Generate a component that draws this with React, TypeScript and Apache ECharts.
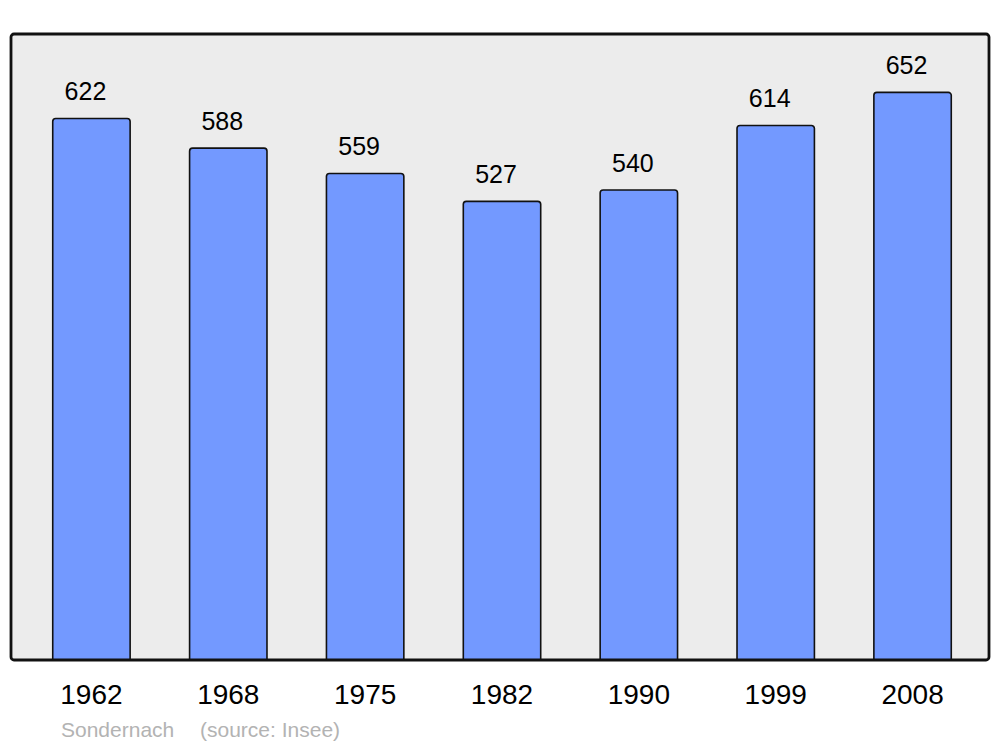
import React, { useEffect, useRef } from "react";
import * as echarts from "echarts";

const years = ["1962", "1968", "1975", "1982", "1990", "1999", "2008"];
const population = [622, 588, 559, 527, 540, 614, 652];
const townName = "Sondernach";
const sourceText = "(source: Insee)";

export default function App() {
  const ref = useRef<HTMLDivElement>(null);
  useEffect(() => {
    if (!ref.current) return;
    const chart = echarts.init(ref.current, undefined, { renderer: "svg" });
    chart.setOption({
      animation: false,
      backgroundColor: "#ffffff",
      textStyle: { fontFamily: "Liberation Sans, Arial, sans-serif" },
      grid: { left: 23, right: 19, top: 34, bottom: 87 },
      xAxis: {
        type: "category",
        data: years,
        axisLine: { show: false },
        axisTick: { show: false },
        axisLabel: {
          color: "#000000",
          fontSize: 28,
          margin: 20,
          fontFamily: "Liberation Sans, Arial, sans-serif",
        },
      },
      yAxis: {
        type: "value",
        min: 0,
        max: 718,
        show: false,
        splitLine: { show: false },
      },
      graphic: [
        {
          type: "rect",
          z: -10,
          silent: true,
          shape: { x: 11, y: 34, width: 978, height: 626, r: 3 },
          style: { fill: "#ececec", stroke: "#111111", lineWidth: 2.8 },
        },
        {
          type: "text",
          left: 61,
          top: 719,
          style: {
            text: townName,
            fill: "#b3b3b3",
            fontSize: 21,
            fontFamily: "Liberation Sans, Arial, sans-serif",
          },
        },
        {
          type: "text",
          left: 200,
          top: 719,
          style: {
            text: sourceText,
            fill: "#b3b3b3",
            fontSize: 21,
            fontFamily: "Liberation Sans, Arial, sans-serif",
          },
        },
      ],
      series: [
        {
          type: "bar",
          data: population,
          barWidth: 79,
          itemStyle: {
            color: "#7399ff",
            borderColor: "#111111",
            borderWidth: 1.6,
            borderRadius: [3, 3, 0, 0],
          },
          label: {
            show: true,
            position: "top",
            distance: 14,
            offset: [-6, 0],
            color: "#000000",
            fontSize: 25,
            fontFamily: "Liberation Sans, Arial, sans-serif",
          },
        },
      ],
    });
    return () => chart.dispose();
  }, []);
  return (
    <div
      ref={ref}
      style={{ position: "fixed", left: 0, top: 0, width: 1000, height: 747 }}
    />
  );
}
